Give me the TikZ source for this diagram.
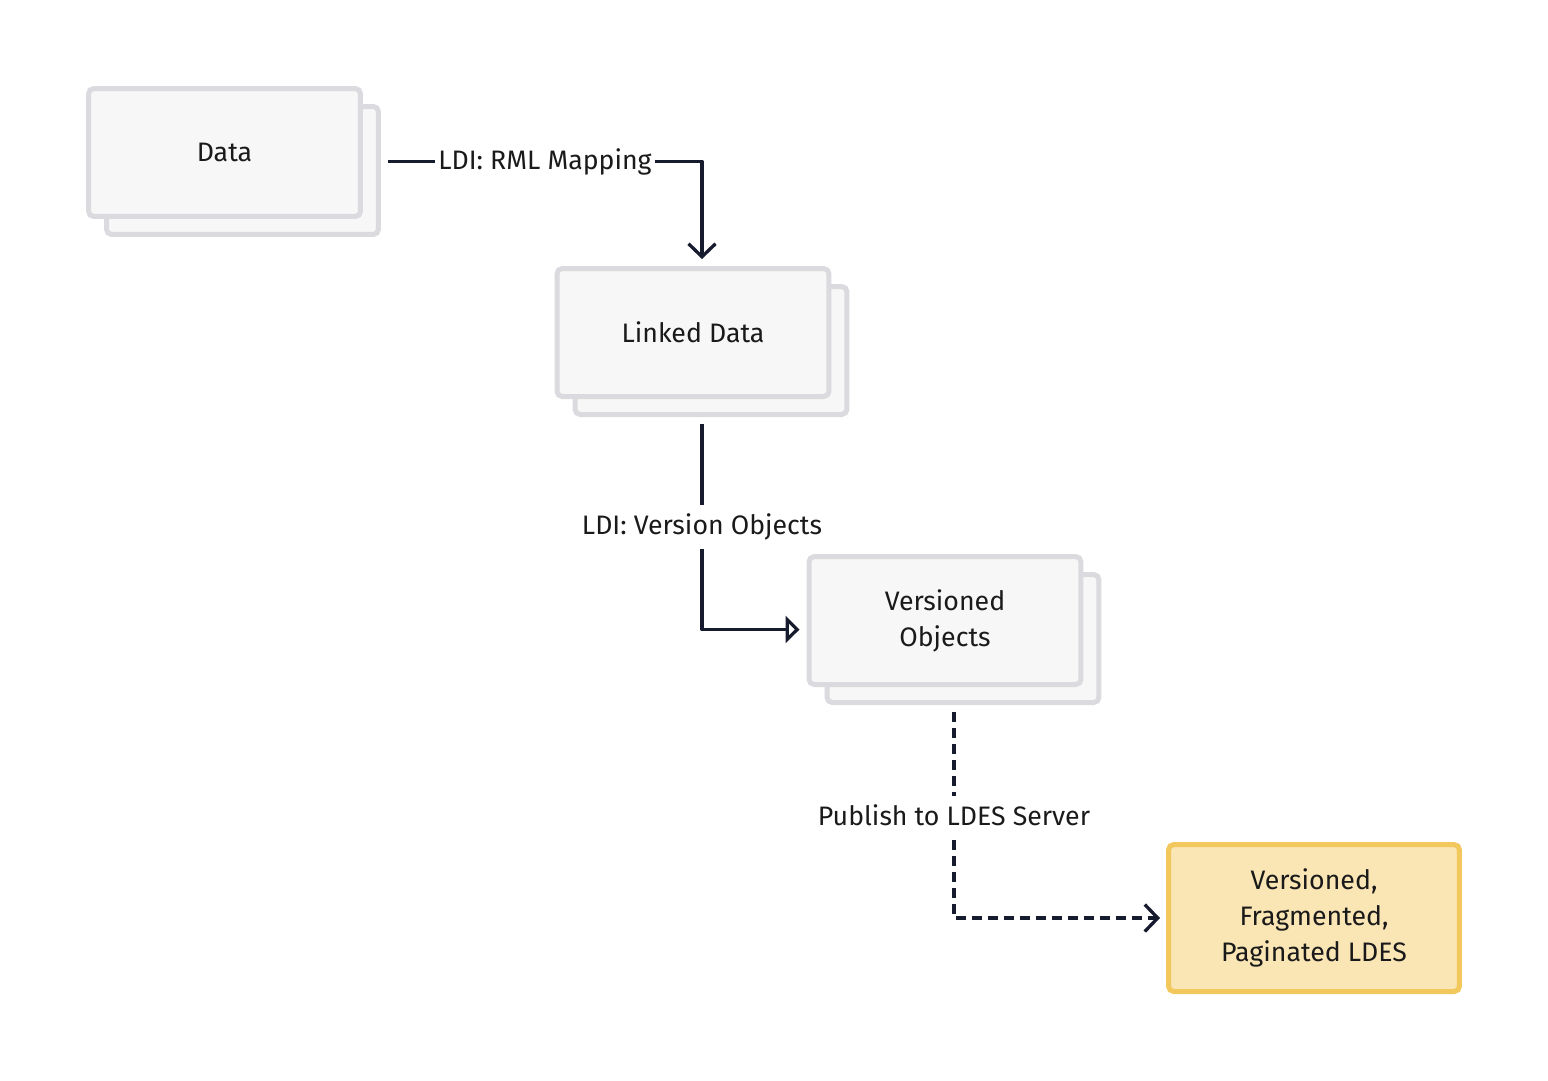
\documentclass[tikz,border=0pt]{standalone}
\usepackage{fontspec}
\setmainfont{Fira Sans}
\usepackage{xcolor}
\definecolor{cLine}{HTML}{161B2E}
\definecolor{cText}{HTML}{1A1A1A}
\definecolor{cBoxFill}{HTML}{F7F7F7}
\definecolor{cBoxDraw}{HTML}{DADADF}
\definecolor{cOutFill}{HTML}{FAE5B5}
\definecolor{cOutDraw}{HTML}{F2C75C}
\usetikzlibrary{positioning,arrows.meta,fit,calc}
\tikzset{
  node-box/.style={draw=cBoxDraw,fill=cBoxFill,line width=0.1cm,rounded corners=3pt,
    minimum width=5.44cm,minimum height=2.56cm,align=center,text=cText},
  node-out/.style={draw=cOutDraw,fill=cOutFill,line width=0.1cm,rounded corners=3pt,
    minimum width=5.82cm,minimum height=2.94cm,align=center,text=cText},
  node-grp/.style={inner sep=0pt,outer sep=0.14cm},
  edge-label/.style={fill=white,text=cText,inner xsep=2pt,inner ysep=5pt},
  arrow/.style={-{Straight Barb[length=0.26cm,width=0.54cm]},line width=0.066cm,
    draw=cLine,line join=round},
  arrow-open/.style={-{Triangle[open,length=0.28cm,width=0.54cm]},line width=0.066cm,
    draw=cLine,line join=round},
  arrow-async/.style={arrow,dash pattern=on 0.2cm off 0.12cm},
}
\begin{document}
\begin{tikzpicture}[x=0.02cm,y=-0.02cm,font=\fontsize{15.2pt}{20.5pt}\selectfont]
  \useasboundingbox (0,0) rectangle (1548,1080);
  % stacked boxes
  \node[node-box] (data-back) at (242.5,170.5) {};
  \node[node-box] (data) at (224.5,152.5) {Data};
  \node[node-grp,fit=(data)(data-back)] (data-grp) {};
  \node[node-box] (linked-back) at (711,350.5) {};
  \node[node-box] (linked) at (693,332.5) {Linked Data};
  \node[node-grp,fit=(linked)(linked-back)] (linked-grp) {};
  \node[node-box] (versioned-back) at (963,638.5) {};
  \node[node-box] (versioned) at (945,620.5) {Versioned\\Objects};
  \node[node-grp,fit=(versioned)(versioned-back)] (versioned-grp) {};
  \node[node-out] (ldes) at (1314,918) {Versioned,\\Fragmented,\\Paginated LDES};
  % connectors
  \draw[arrow] (data-grp.east) -| node[edge-label,pos=0.25] (l-rml) {LDI: RML Mapping} (linked-grp.north);
  \draw[arrow-open] (linked-grp.south) |- node[edge-label,pos=0.25] (l-version) {LDI: Version Objects} (versioned-grp.west);
  \draw[arrow-async,shorten >=0.12cm] (versioned-grp.south) |- node[edge-label,pos=0.25] (l-publish) {Publish to LDES Server} (ldes.west);
\end{tikzpicture}
\end{document}
